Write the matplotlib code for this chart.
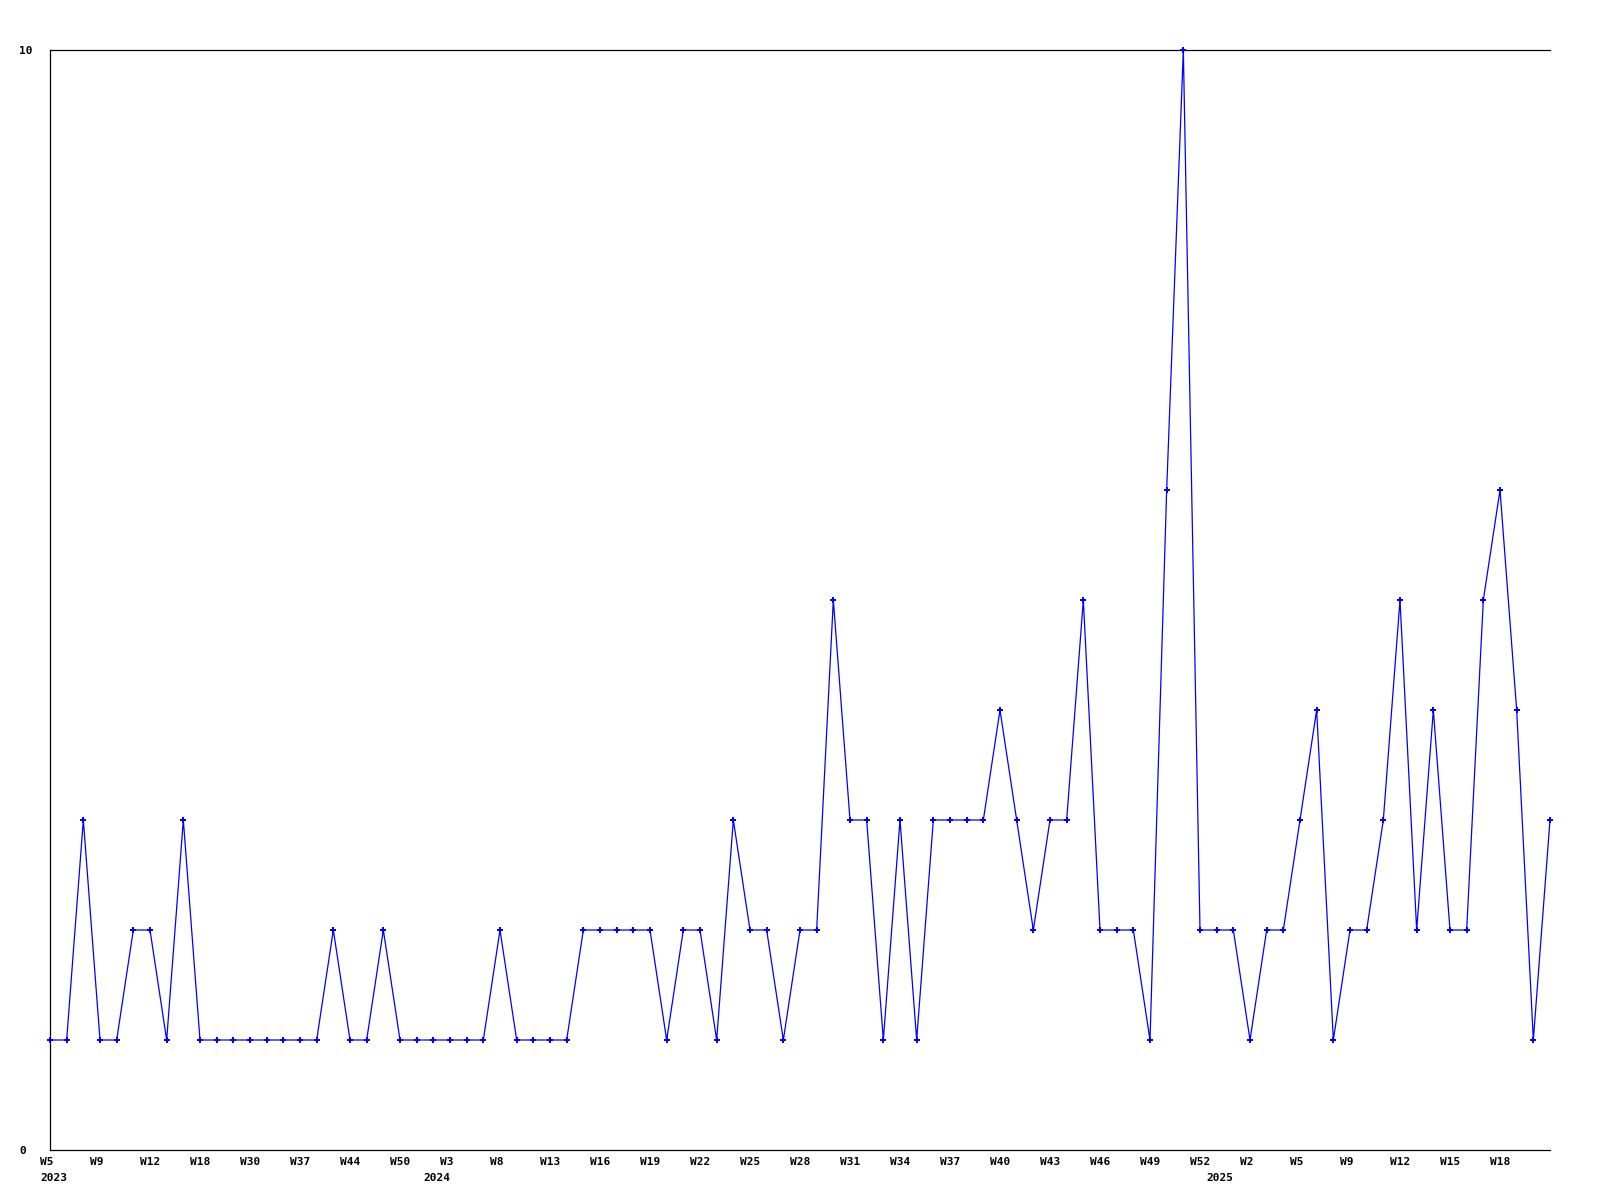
import matplotlib as mpl
mpl.use('Agg')
import matplotlib.pyplot as plt
import matplotlib.transforms as mtrans
import numpy as np

# weekly counts, one entry per point on the chart
counts = [1, 1, 3, 1, 1, 2, 2, 1, 3, 1,
          1, 1, 1, 1, 1, 1, 1, 2, 1, 1,
          2, 1, 1, 1, 1, 1, 1, 2, 1, 1,
          1, 1, 2, 2, 2, 2, 2, 1, 2, 2,
          1, 3, 2, 2, 1, 2, 2, 5, 3, 3,
          1, 3, 1, 3, 3, 3, 3, 4, 3, 2,
          3, 3, 5, 2, 2, 2, 1, 6, 10, 2,
          2, 2, 1, 2, 2, 3, 4, 1, 2, 2,
          3, 5, 2, 4, 2, 2, 5, 6, 4, 1, 3]

# every third point gets a week label
week_labels = ['W5', 'W9', 'W12', 'W18', 'W30', 'W37', 'W44', 'W50', 'W3', 'W8',
               'W13', 'W16', 'W19', 'W22', 'W25', 'W28', 'W31', 'W34', 'W37', 'W40',
               'W43', 'W46', 'W49', 'W52', 'W2', 'W5', 'W9', 'W12', 'W15', 'W18']
label_step = 3

# first point of each year
years = ['2023', '2024', '2025']
year_start = [0, 23, 70]

y_ticks = [0, 10]

font = 'DejaVu Sans Mono'

fig = plt.figure(figsize=(16, 12), dpi=100)
ax = fig.add_axes([50/1600., 50/1200., 1500/1600., 1100/1200.])

x = np.arange(len(counts))
ax.plot(x, counts, color='#0000ff', lw=0.9, marker='P', ms=4, mew=0,
        clip_on=False, zorder=3)

ax.set_xlim(0, len(counts) - 1)
ax.set_ylim(0, 10)

for side in ['left', 'bottom', 'top']:
    ax.spines[side].set_color('black')
    ax.spines[side].set_linewidth(0.9)
ax.spines['right'].set_visible(False)

# y axis: only 0 and 10, left aligned text
ax.set_yticks(y_ticks)
ax.set_yticklabels([str(v) for v in y_ticks], family=font, fontweight='bold',
                   fontsize=8, ha='left')
ax.tick_params(axis='y', length=0, pad=22.3)

# x axis: week labels, text starts a little left of the point
shift = mtrans.ScaledTranslation(-10/100., 0, fig.dpi_scale_trans)
ax.set_xticks(x[::label_step][:len(week_labels)])
ax.set_xticklabels(week_labels, family=font, fontweight='bold', fontsize=8, ha='left')
ax.tick_params(axis='x', length=0, pad=5)
for lbl in ax.get_xticklabels():
    lbl.set_transform(lbl.get_transform() + shift)

# year labels under the weeks
trans = mtrans.blended_transform_factory(ax.transData, ax.transAxes) + shift
for yr, i in zip(years, year_start):
    ax.text(i, 0, yr, transform=trans + mtrans.ScaledTranslation(0, -23/100., fig.dpi_scale_trans),
            family=font, fontweight='bold', fontsize=8, ha='left', va='top')

fig.savefig('out.png', dpi=100, facecolor='white')
